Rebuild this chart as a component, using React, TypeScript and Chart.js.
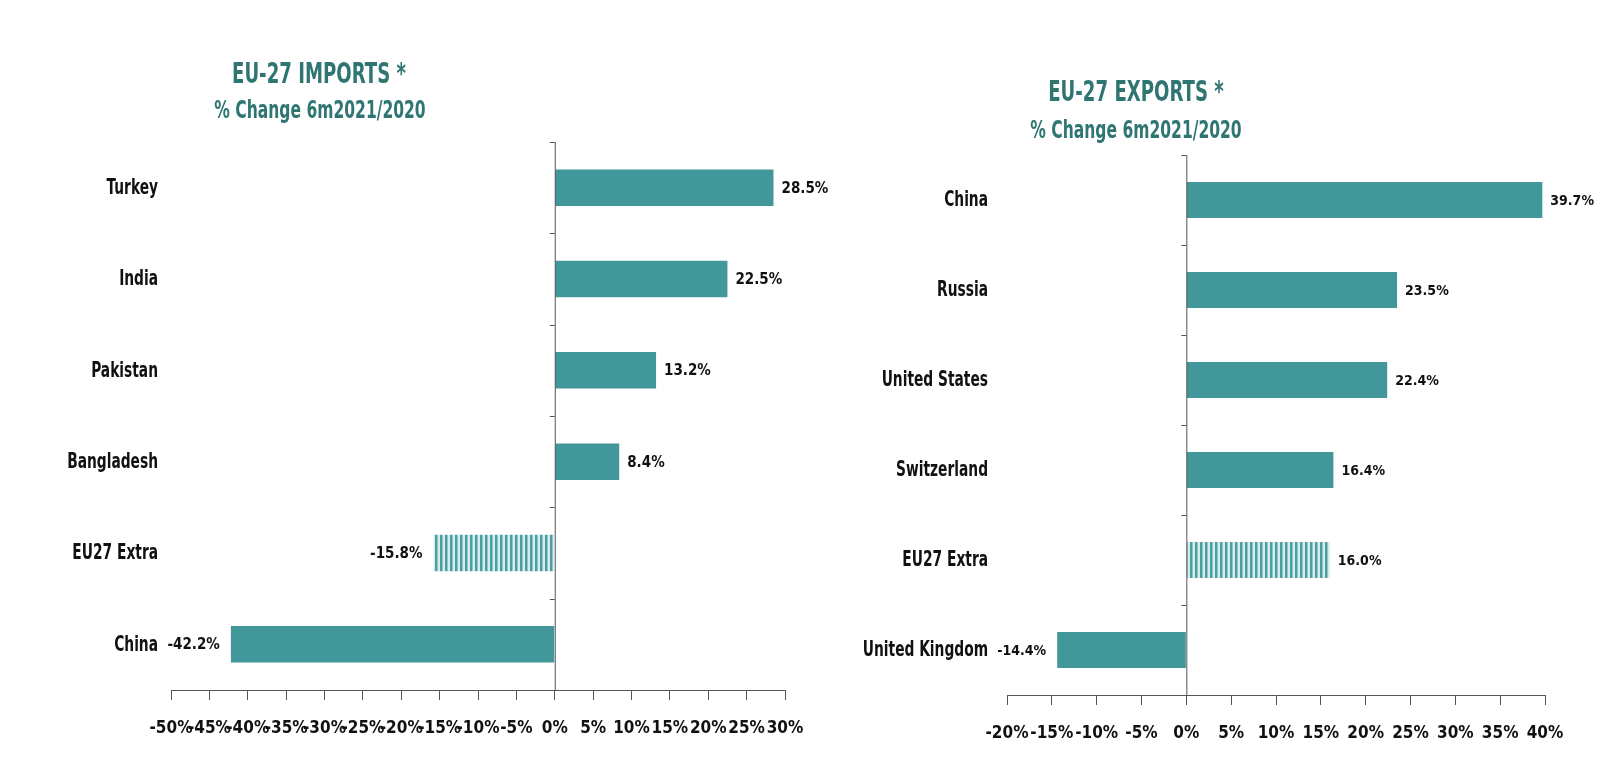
import { useEffect, useRef } from 'react'
import { Chart, registerables } from 'chart.js'

Chart.register(...registerables)

const importCategories = ['Turkey', 'India', 'Pakistan', 'Bangladesh', 'EU27 Extra', 'China']
const importValues = [28.5, 22.5, 13.2, 8.4, -15.8, -42.2]
const exportCategories = ['China', 'Russia', 'United States', 'Switzerland', 'EU27 Extra', 'United Kingdom']
const exportValues = [39.7, 23.5, 22.4, 16.4, 16.0, -14.4]
const hatchedCategory = 'EU27 Extra'

const FONT = "'DejaVu Sans Condensed', 'DejaVu Sans', sans-serif"
const TEAL = '#42979a'
const TITLE_COLOR = '#2f7672'
const AXIS_COLOR = '#555'
const SQUEEZE = 0.72

function makeHatch(): CanvasPattern | string {
  const c = document.createElement('canvas')
  c.width = 5
  c.height = 10
  const g = c.getContext('2d')
  if (!g) return TEAL
  g.fillStyle = '#d8ecec'
  g.fillRect(0, 0, 5, 10)
  g.fillStyle = '#4a9fa2'
  g.fillRect(0, 0, 2.5, 10)
  return g.createPattern(c, 'repeat') || TEAL
}

// zero line with short ticks between categories, condensed category labels, value labels
const zeroAxisAndLabels = {
  id: 'zeroAxisAndLabels',
  afterDatasetsDraw(chart: Chart, _args: unknown, opts: { valueSize: number; labelGap: number }) {
    const { ctx, chartArea, scales } = chart
    const x0 = scales.x.getPixelForValue(0)
    const labels = chart.data.labels as string[]
    const n = labels.length
    const band = (chartArea.bottom - chartArea.top) / n
    ctx.save()
    ctx.strokeStyle = AXIS_COLOR
    ctx.lineWidth = 1
    ctx.beginPath()
    ctx.moveTo(x0 + 0.5, chartArea.top)
    ctx.lineTo(x0 + 0.5, chartArea.bottom)
    for (let i = 0; i < n; i++) {
      const y = Math.round(chartArea.top + i * band) + 0.5
      ctx.moveTo(x0 - 5, y)
      ctx.lineTo(x0, y)
    }
    ctx.stroke()

    ctx.fillStyle = '#111'
    ctx.textBaseline = 'middle'
    ctx.font = `bold 21px ${FONT}`
    ctx.textAlign = 'right'
    labels.forEach((label, i) => {
      const y = scales.y.getPixelForValue(i)
      ctx.save()
      ctx.translate(chartArea.left - opts.labelGap, y + 1)
      ctx.scale(0.73, 1)
      ctx.fillText(label, 0, 0)
      ctx.restore()
    })

    ctx.font = `bold ${opts.valueSize}px ${FONT}`
    const meta = chart.getDatasetMeta(0)
    const values = chart.data.datasets[0].data as number[]
    meta.data.forEach((bar: any, i: number) => {
      const v = values[i]
      const text = `${v.toFixed(1)}%`
      if (v >= 0) {
        ctx.textAlign = 'left'
        ctx.fillText(text, bar.x + 8, bar.y + 1)
      } else {
        ctx.textAlign = 'right'
        ctx.fillText(text, bar.x - 11, bar.y + 1)
      }
    })
    ctx.restore()
  },
}

type PanelProps = {
  categories: string[]
  values: number[]
  min: number
  max: number
  width: number
  yWidth: number
  valueSize: number
  labelGap: number
  padding: { top: number; right: number; bottom: number }
}

function Panel({ categories, values, min, max, width, yWidth, valueSize, labelGap, padding }: PanelProps) {
  const canvasRef = useRef<HTMLCanvasElement>(null)

  useEffect(() => {
    const canvas = canvasRef.current
    if (!canvas) return
    const hatch = makeHatch()
    const chart = new Chart(canvas, {
      type: 'bar',
      data: {
        labels: categories,
        datasets: [{
          data: values,
          backgroundColor: categories.map((c) => (c === hatchedCategory ? hatch : TEAL)),
          borderWidth: 0,
          categoryPercentage: 0.8,
          barPercentage: 0.5,
        }],
      },
      options: {
        indexAxis: 'y',
        responsive: false,
        animation: false,
        layout: { padding: { left: 0, ...padding } },
        plugins: {
          legend: { display: false },
          tooltip: { enabled: false },
          zeroAxisAndLabels: { valueSize, labelGap },
        } as any,
        scales: {
          x: {
            min, max,
            ticks: {
              stepSize: 5,
              padding: 18,
              color: '#111',
              font: { family: FONT, size: 17, weight: 'bold' },
              callback: (v) => `${v}%`,
              maxRotation: 0,
              autoSkip: false,
            },
            grid: { drawOnChartArea: false, color: AXIS_COLOR, tickLength: 10 },
            border: { display: true, color: AXIS_COLOR },
            afterFit: (s: any) => { s.height = 50 },
          },
          y: {
            ticks: { display: false },
            grid: { display: false, drawTicks: false },
            border: { display: false },
            afterFit: (s: any) => { s.width = yWidth },
          },
        },
      },
      plugins: [zeroAxisAndLabels],
    })
    return () => { chart.destroy() }
  }, [categories, values, min, max, yWidth, valueSize, labelGap, padding])

  return <canvas ref={canvasRef} width={width} height={772} />
}

const titleStyle: React.CSSProperties = {
  position: 'absolute',
  whiteSpace: 'nowrap',
  color: TITLE_COLOR,
  fontFamily: FONT,
  fontWeight: 'bold',
  textAlign: 'center',
  lineHeight: 1,
  transform: `translateX(-50%) scaleX(${SQUEEZE})`,
}

export default function App() {
  return (
    <div style={{ position: 'absolute', left: 0, top: 0, width: 1620, height: 772, background: '#fff' }}>
      <div style={{ position: 'absolute', left: 0, top: 0 }}>
        <Panel categories={importCategories} values={importValues} min={-50} max={30} width={870}
          yWidth={171} valueSize={15} labelGap={13} padding={{ top: 142, right: 85, bottom: 32 }} />
      </div>
      <div style={{ position: 'absolute', left: 820, top: 0 }}>
        <Panel categories={exportCategories} values={exportValues} min={-20} max={40} width={800}
          yWidth={187} valueSize={14} labelGap={19} padding={{ top: 155, right: 75, bottom: 27 }} />
      </div>
      <div style={{ ...titleStyle, left: 319, top: 60, fontSize: 28 }}>EU-27 IMPORTS *</div>
      <div style={{ ...titleStyle, left: 320, top: 98, fontSize: 24 }}>% Change 6m2021/2020</div>
      <div style={{ ...titleStyle, left: 1136, top: 78, fontSize: 28 }}>EU-27 EXPORTS *</div>
      <div style={{ ...titleStyle, left: 1136, top: 118, fontSize: 24 }}>% Change 6m2021/2020</div>
    </div>
  )
}
